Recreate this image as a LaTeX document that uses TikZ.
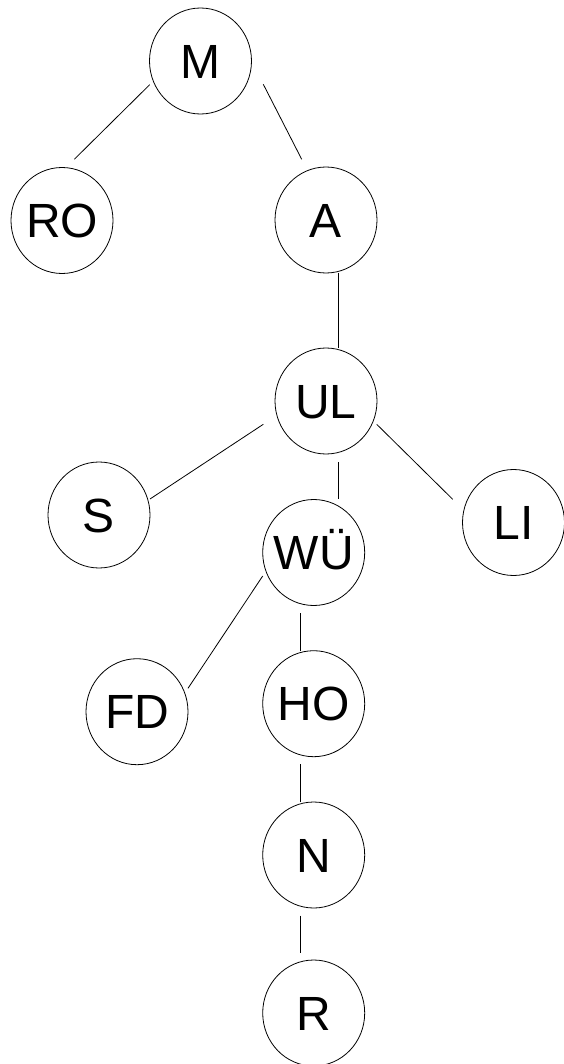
\documentclass[tikz,border=0pt]{standalone}
\usepackage{fontspec}
\setmainfont{Liberation Sans}
\usetikzlibrary{shapes.geometric,calc}
\tikzset{
  treenode/.style={ellipse, draw=black, line width=0.8pt,
    minimum width=102pt, minimum height=106pt, inner sep=0pt,
    text height=34.4pt, text depth=0pt,
    font=\fontsize{48}{58}\selectfont},
  link/.style={draw=black, line width=0.8pt}
}
\newcommand{\lbl}[1]{\makebox[0pt]{#1}}
\begin{document}
\begin{tikzpicture}[x=1pt,y=-1pt]
  \useasboundingbox (0,0) rectangle (563,1064);
  % nodes of the tree
  \node[treenode] (M)  at (200.5,61)   {\lbl{M}};
  \node[treenode] (RO) at (62,220.5)   {\lbl{RO}};
  \node[treenode] (A)  at (326,220)    {\lbl{A}};
  \node[treenode] (UL) at (326,401)    {\lbl{UL}};
  \node[treenode] (S)  at (99,515)     {\lbl{S}};
  \node[treenode] (LI) at (513.5,522.5){\lbl{LI}};
  \node[treenode] (W)  at (313.7,552.5){\lbl{WÜ}};
  \node[treenode] (FD) at (137,711.7)  {\lbl{FD}};
  \node[treenode] (HO) at (313.7,703.7){\lbl{HO}};
  \node[treenode] (N)  at (313.7,855)  {\lbl{N}};
  \node[treenode] (R)  at (313.7,1013) {\lbl{R}};
  % connectors, each leaving a small gap to the circles
  \draw[link] ($(M)+(-50.8,23.7)$)  -- ($(RO)+(12.3,-61.2)$);
  \draw[link] ($(M)+(62.8,23.3)$)   -- ($(A)+(-24.3,-60.7)$);
  \draw[link] ($(A)+(12.7,53)$)     -- ($(UL)+(12.7,-53)$);
  \draw[link] ($(UL)+(-62.7,23.3)$) -- ($(S)+(51,-16)$);
  \draw[link] ($(UL)+(50.7,23.3)$)  -- ($(LI)+(-60.8,-23.2)$);
  \draw[link] ($(UL)+(12.7,61.3)$)  -- ($(W)+(25,-53.2)$);
  \draw[link] ($(W)+(-51,23.5)$)    -- ($(FD)+(51,-23.4)$);
  \draw[link] ($(W)+(-13,60.8)$)    -- ($(HO)+(-13,-53)$);
  \draw[link] ($(HO)+(-13,60.6)$)   -- ($(N)+(-13,-53)$);
  \draw[link] ($(N)+(-13,60.7)$)    -- ($(R)+(-13,-59.7)$);
\end{tikzpicture}
\end{document}
